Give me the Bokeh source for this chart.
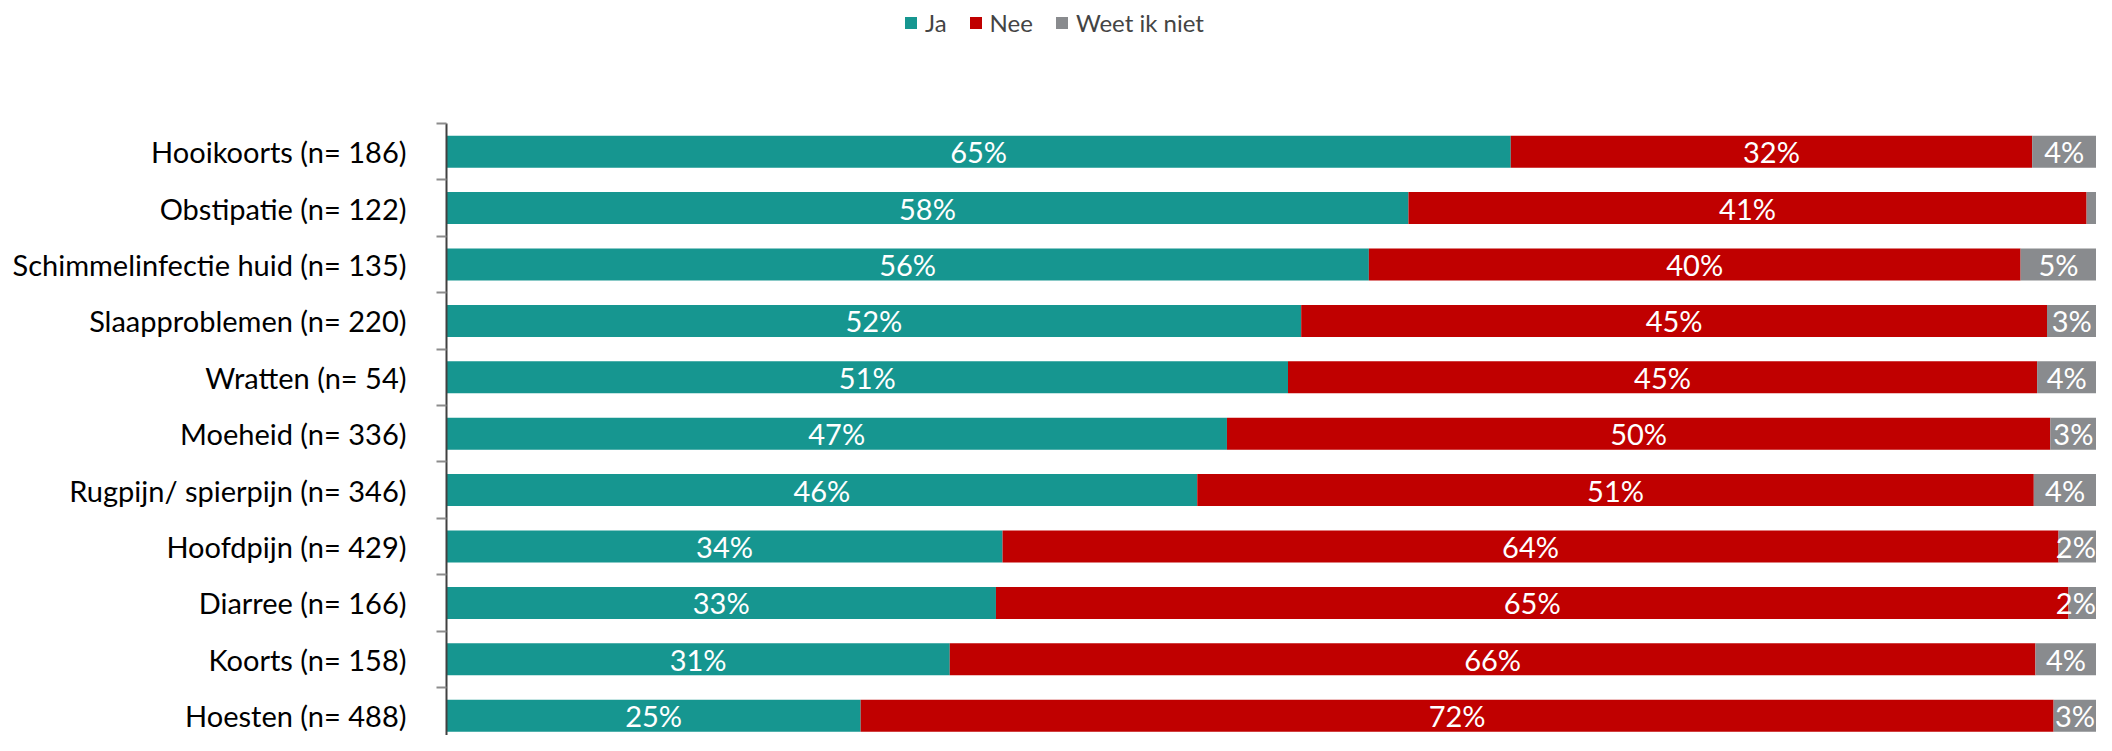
from bokeh.plotting import figure
from bokeh.models import ColumnDataSource, FixedTicker, Range1d, Legend, LegendItem
from bokeh.embed import file_html
from bokeh.resources import INLINE
from bokeh.core.properties import value

categories = [
    "Hooikoorts (n= 186)",
    "Obstipatie (n= 122)",
    "Schimmelinfectie huid (n= 135)",
    "Slaapproblemen (n= 220)",
    "Wratten (n= 54)",
    "Moeheid (n= 336)",
    "Rugpijn/ spierpijn (n= 346)",
    "Hoofdpijn (n= 429)",
    "Diarree (n= 166)",
    "Koorts (n= 158)",
    "Hoesten (n= 488)",
]
ja = [64.5, 58.3, 55.9, 51.8, 51.0, 47.3, 45.5, 33.7, 33.3, 30.5, 25.1]
nee = [31.6, 41.1, 39.5, 45.2, 45.4, 49.9, 50.7, 64.0, 65.0, 65.8, 72.3]
weet = [3.9, 0.6, 4.6, 3.0, 3.6, 2.8, 3.8, 2.3, 1.7, 3.7, 2.6]
ja_labels = ["65%", "58%", "56%", "52%", "51%", "47%", "46%", "34%", "33%", "31%", "25%"]
nee_labels = ["32%", "41%", "40%", "45%", "45%", "50%", "51%", "64%", "65%", "66%", "72%"]
weet_labels = ["4%", "", "5%", "3%", "4%", "3%", "4%", "2%", "2%", "4%", "3%"]
series = ["Ja", "Nee", "Weet ik niet"]
colors = ["#169690", "#C00000", "#898B8E"]

N = len(categories)
ys = [N - i - 0.5 for i in range(N)]

# keep the last labels inside the plot edge
EDGE = 98.75
src = ColumnDataSource(dict(
    y=ys, Ja=ja, Nee=nee, Weet=weet,
    ja_mid=[a / 2 for a in ja],
    nee_mid=[a + b / 2 for a, b in zip(ja, nee)],
    weet_mid=[min(a + b + c / 2, EDGE) for a, b, c in zip(ja, nee, weet)],
    ja_lab=ja_labels, nee_lab=nee_labels, weet_lab=weet_labels,
))

FONT = "Lato"
H = 735
BAND = 56.4          # pixels per category
TOP = 123            # pixels above first category band
y_end = N + TOP / BAND
y_start = N - (H - TOP) / BAND

p = figure(width=2096, height=H, output_backend="svg", toolbar_location=None,
           x_range=Range1d(0, 100), y_range=Range1d(y_start, y_end),
           x_axis_type=None, y_axis_type="linear",
           min_border_left=446, min_border_right=0, min_border_top=0,
           min_border_bottom=0)
p.outline_line_color = None
p.xgrid.visible = False
p.ygrid.visible = False

rs = p.hbar_stack(["Ja", "Nee", "Weet"], y="y", height=32 / BAND, color=colors,
                  line_color=None, source=src)

for col, lab in [("ja_mid", "ja_lab"), ("nee_mid", "nee_lab"), ("weet_mid", "weet_lab")]:
    p.text(x=col, y="y", text=lab, source=src, text_color="white",
           text_font=value(FONT), text_font_size="29px",
           text_align="center", text_baseline="middle")

ax = p.yaxis[0]
ax.bounds = (0, N)
ax.ticker = FixedTicker(ticks=ys, minor_ticks=[float(i) for i in range(N + 1)])
ax.major_label_overrides = {y: c for y, c in zip(ys, categories)}
ax.major_tick_out = 0
ax.major_tick_in = 0
ax.minor_tick_out = 10
ax.minor_tick_in = 0
ax.minor_tick_line_color = "#8C8C8C"
ax.minor_tick_line_width = 2
ax.axis_line_color = "#404040"
ax.axis_line_width = 2
ax.major_label_standoff = 30
ax.major_label_text_font = FONT
ax.major_label_text_font_size = "29px"
ax.major_label_text_color = "#000000"

legend = Legend(items=[LegendItem(label=s, renderers=[r]) for s, r in zip(series, rs)],
                orientation="horizontal", location=(457, 698),
                glyph_width=15, glyph_height=15, label_standoff=7, spacing=21,
                padding=0, margin=0, border_line_color=None, background_fill_alpha=0,
                label_text_font=FONT, label_text_font_size="24px", label_height=24)
p.add_layout(legend, "center")

open("out.html", "w").write(file_html(p, INLINE))
